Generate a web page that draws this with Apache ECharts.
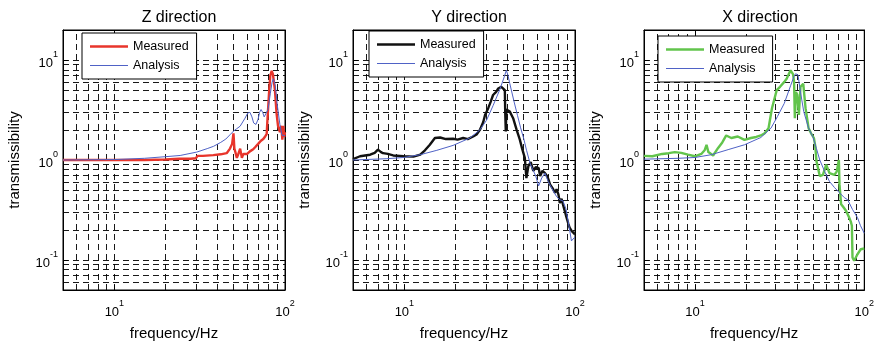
<!DOCTYPE html>
<html>
<head>
<meta charset="utf-8">
<script src="https://cdn.jsdelivr.net/npm/echarts@6/dist/echarts.min.js"></script>
<style>html,body{margin:0;padding:0;background:#fff}#c{width:877px;height:346px}</style>
</head>
<body>
<div id="c"></div>
<script>
// ---- data ----
const titles = ['Z direction', 'Y direction', 'X direction'];
const legendNames = ['Measured', 'Analysis'];
const xTicks = [10, 100];
const yTicks = [0.1, 1, 10];

const zMeasF = [5, 7, 10, 15, 20, 24, 28, 30, 30.8, 33, 38, 42, 45.5, 47.6, 49, 49.9, 50.5, 51, 52.2, 53, 54.6, 55.9, 57, 58.3, 60, 62.3, 65.1, 67, 69.6, 72, 74.6, 76.5, 78.1, 79, 80.5, 82, 83.6, 85, 86, 87.3, 89.3, 91, 93.4, 95, 96.5, 97.7, 99, 100];
const zMeasV = [1.0, 1.0, 1.0, 1.0, 1.01, 1.03, 1.03, 1.04, 1.1, 1.1, 1.12, 1.14, 1.17, 1.3, 1.45, 1.85, 1.3, 1.23, 1.05, 1.12, 1.3, 1.05, 1.15, 1.2, 1.15, 1.22, 1.28, 1.35, 1.45, 1.55, 1.62, 1.72, 1.82, 2.6, 4.5, 7.0, 7.8, 7.2, 7.5, 5.0, 2.9, 2.2, 1.9, 2.2, 1.6, 2.2, 1.7, 1.9];
const zAnaF = [5, 10, 15, 20, 24.3, 30.4, 35, 38.1, 42, 45, 47.6, 50, 52, 54.6, 56.5, 58.3, 60.5, 62.3, 64, 65.5, 67.6, 69.5, 71, 72.4, 74, 75.5, 77.3, 79.5, 82, 84, 85.5, 86.6, 87.8, 90.1, 93.4, 96, 98, 100];
const zAnaV = [1.0, 1.01, 1.04, 1.08, 1.11, 1.2, 1.3, 1.37, 1.5, 1.62, 1.79, 1.95, 2.05, 2.18, 2.4, 2.62, 2.95, 3.0, 2.7, 2.35, 2.27, 2.55, 3.0, 3.2, 3.0, 2.7, 2.62, 3.2, 4.6, 6.0, 6.5, 6.4, 5.5, 3.55, 2.25, 1.77, 1.7, 1.75];

const yMeasF = [5, 5.5, 6.3, 6.7, 7.0, 7.3, 7.5, 8.0, 8.6, 9.9, 11.3, 12.4, 13.2, 14.1, 15.1, 16.2, 17.5, 19.3, 20.5, 22.1, 23.5, 25.3, 26.5, 27.7, 29, 29.7, 31.0, 32, 33.1, 34.5, 35.5, 37, 38.0, 38.8, 39.0, 39.3, 39.6, 40.0, 41.5, 43.4, 45.5, 47.5, 49, 50.8, 51.9, 53.3, 55, 57.0, 59, 61.2, 62.5, 64.5, 66.7, 69, 71.4, 74, 76.3, 78.0, 80, 81.5, 83.4, 85, 87.1, 89, 91.4, 93, 95.5, 98, 100];
const yMeasV = [1.02, 1.09, 1.13, 1.18, 1.27, 1.2, 1.17, 1.15, 1.11, 1.09, 1.08, 1.13, 1.25, 1.42, 1.66, 1.68, 1.62, 1.63, 1.6, 1.66, 1.62, 1.72, 1.8, 2.0, 2.4, 2.82, 3.3, 3.8, 4.47, 4.8, 5.2, 5.4, 5.6, 5.0, 3.0, 1.93, 3.2, 3.3, 3.05, 2.62, 2.0, 1.6, 1.3, 1.05, 0.66, 0.87, 0.95, 0.78, 0.85, 0.83, 0.69, 0.78, 0.74, 0.68, 0.57, 0.52, 0.47, 0.51, 0.45, 0.37, 0.41, 0.36, 0.31, 0.27, 0.23, 0.21, 0.195, 0.19, 0.18];
const yAnaF = [5, 7.9, 9.9, 12.4, 15.5, 19.3, 24.2, 27.7, 30.3, 33.1, 36.3, 38.5, 39.6, 40.5, 41.5, 44, 46, 48, 50, 52, 54.6, 58.9, 61.2, 63.8, 66.7, 69.6, 74.6, 78, 81.5, 85, 88.7, 92.6, 95.3, 97.5, 100];
const yAnaV = [1.0, 1.03, 1.06, 1.13, 1.25, 1.4, 1.66, 2.0, 2.5, 3.5, 5.1, 6.8, 7.9, 7.0, 5.8, 3.8, 2.8, 2.1, 1.65, 1.25, 0.92, 0.69, 0.55, 0.66, 0.74, 0.61, 0.49, 0.43, 0.40, 0.39, 0.32, 0.21, 0.155, 0.15, 0.17];

const xMeasF = [5, 5.6, 6.4, 7.0, 7.6, 8.3, 9.1, 10, 10.9, 11.4, 11.7, 12.0, 12.8, 13.7, 14.5, 15.3, 16.4, 17.9, 19.6, 21.4, 23, 24.5, 25.8, 27.2, 28.5, 30.4, 31.8, 33.7, 34.8, 36.7, 38.0, 38.5, 38.9, 39.5, 40.2, 41.1, 42.0, 43.6, 45.0, 46.9, 48.5, 50.4, 51.3, 52.2, 54.6, 57.0, 59.6, 62.3, 66.7, 68.8, 70.5, 70.8, 71.4, 73.0, 75, 78.0, 81.5, 83.4, 84.5, 85.2, 87.1, 89.3, 91.2, 95.4, 100];
const xMeasV = [1.1, 1.09, 1.15, 1.17, 1.2, 1.18, 1.13, 1.09, 1.15, 1.25, 1.42, 1.2, 1.11, 1.32, 1.5, 1.76, 1.66, 1.72, 1.59, 1.66, 1.7, 1.76, 1.85, 2.08, 3.3, 5.0, 5.4, 6.05, 6.5, 7.9, 7.2, 6.0, 2.62, 4.8, 4.5, 2.82, 5.4, 5.8, 3.3, 2.08, 1.85, 1.66, 1.4, 0.97, 0.69, 0.71, 0.9, 0.74, 0.71, 0.77, 0.75, 1.0, 0.57, 0.36, 0.34, 0.31, 0.265, 0.24, 0.22, 0.106, 0.098, 0.1, 0.114, 0.128, 0.13];
const xAnaF = [5, 8, 10, 12.5, 15.7, 19.6, 24.5, 28.1, 30.7, 33.7, 36.8, 38.5, 39.3, 40.6, 42.0, 43.9, 46.9, 49.9, 52.2, 54.6, 58.3, 62.3, 66.7, 71.4, 76.3, 79.8, 85.2, 91.2, 95, 100];
const xAnaV = [1.02, 1.04, 1.06, 1.13, 1.27, 1.42, 1.68, 2.08, 2.72, 3.69, 5.6, 6.9, 7.3, 7.1, 4.8, 3.05, 2.08, 1.68, 1.3, 1.0, 0.77, 0.61, 0.53, 0.47, 0.42, 0.40, 0.32, 0.265, 0.22, 0.185];

const measColors = ['#e8352b', '#111111', '#62c44c'];
const anaColor = '#4f62c6';

// ---- build ----
const pair = (f, v) => f.map((x, i) => [x, v[i]]);
const measured = [pair(zMeasF, zMeasV), pair(yMeasF, yMeasV), pair(xMeasF, xMeasV)];
const analysis = [pair(zAnaF, zAnaV), pair(yAnaF, yAnaV), pair(xAnaF, xAnaV)];

const gridLefts = [63, 353, 644];
const gridW = 222, gridTop = 30, gridH = 263;
const legendPos = [[82, 33], [369, 31], [658, 36]];
const FONT = '"Liberation Sans", Arial, sans-serif';

const xGridVals = [6, 7, 8, 9, 10, 20, 30, 40, 50, 60, 70, 80, 90];
const yGridVals = [0.06, 0.07, 0.08, 0.09, 0.1, 0.2, 0.3, 0.4, 0.5, 0.6, 0.7, 0.8, 0.9, 1, 2, 3, 4, 5, 6, 7, 8, 9, 10];

function powLabel(v) {
  const l = Math.log10(v);
  const e = Math.round(l);
  if (Math.abs(l - e) > 1e-6) return '';
  return '{b|10}{s|' + e + '}';
}
const rich = {
  b: { fontSize: 13, fontFamily: FONT, color: '#000', lineHeight: 20, verticalAlign: 'bottom' },
  s: { fontSize: 9, fontFamily: FONT, color: '#000', lineHeight: 20, verticalAlign: 'top' }
};

const grid = [], xAxis = [], yAxis = [], series = [], legend = [], title = [];
for (let i = 0; i < 3; i++) {
  grid.push({ left: gridLefts[i], top: gridTop, width: gridW, height: gridH, show: true, borderColor: '#000', borderWidth: 1, backgroundColor: '#fff' });
  title.push({ text: titles[i], left: gridLefts[i] + gridW / 2, top: 5, textAlign: 'center',
    textStyle: { fontSize: 16, fontWeight: 'normal', color: '#000', fontFamily: FONT } });
  const axLine = { show: true, lineStyle: { color: '#000', width: 1 } };
  const tick = { inside: true, length: 5, lineStyle: { color: '#000' } };
  xAxis.push({
    type: 'log', logBase: 10, gridIndex: i, min: 5, max: 100, position: 'bottom',
    name: 'frequency/Hz', nameLocation: 'middle', nameGap: 36,
    nameTextStyle: { fontSize: 15, color: '#000', fontFamily: FONT },
    axisLine: axLine, axisTick: tick,
    axisLabel: { formatter: powLabel, rich: rich, margin: 9, showMinLabel: false },
    splitLine: { show: false }
  });
  xAxis.push({
    type: 'log', logBase: 10, gridIndex: i, min: 5, max: 100, position: 'top',
    axisLine: axLine, axisTick: tick,
    axisLabel: { show: false }, splitLine: { show: false }
  });
  yAxis.push({
    type: 'log', logBase: 10, gridIndex: i, min: 0.05, max: 20, position: 'left',
    name: 'transmissibility', nameLocation: 'middle', nameGap: 41,
    nameTextStyle: { fontSize: 15, color: '#000', fontFamily: FONT },
    axisLine: axLine, axisTick: tick,
    axisLabel: { formatter: powLabel, rich: rich, margin: 5, showMinLabel: false, showMaxLabel: false },
    splitLine: { show: false }
  });
  yAxis.push({
    type: 'log', logBase: 10, gridIndex: i, min: 0.05, max: 20, position: 'right',
    axisLine: axLine, axisTick: tick,
    axisLabel: { show: false }, splitLine: { show: false }
  });
  const mName = legendNames[0] + ' ' + i, aName = legendNames[1] + ' ' + i;
  series.push({
    type: 'line', name: 'grid' + i, xAxisIndex: 2 * i, yAxisIndex: 2 * i, data: [], z: 1,
    markLine: {
      silent: true, symbol: 'none', z: 1, animation: false,
      label: { show: false },
      lineStyle: { color: '#000', width: 1, type: [6, 4], opacity: 0.9 },
      data: xGridVals.map(v => ({ xAxis: v })).concat(yGridVals.map(v => ({ yAxis: v })))
    }
  });
  series.push({
    type: 'line', name: mName, xAxisIndex: 2 * i, yAxisIndex: 2 * i, data: measured[i],
    symbol: 'none', z: 3, lineStyle: { color: measColors[i], width: 2.4 }, itemStyle: { color: measColors[i] }
  });
  series.push({
    type: 'line', name: aName, xAxisIndex: 2 * i, yAxisIndex: 2 * i, data: analysis[i],
    symbol: 'none', z: 4, lineStyle: { color: anaColor, width: 1 }, itemStyle: { color: anaColor }
  });
  legend.push({
    data: [
      { name: mName, icon: 'path://M0,0H38V2.4H0Z', itemStyle: { color: measColors[i] } },
      { name: aName, icon: 'path://M0,0H38V1H0Z', itemStyle: { color: anaColor } }
    ],
    left: legendPos[i][0], top: legendPos[i][1], orient: 'vertical',
    formatter: n => n.split(' ')[0],
    backgroundColor: '#fff', borderColor: '#000', borderWidth: 1, borderRadius: 0,
    padding: [7, 8, 7, 8], itemGap: 6, itemWidth: 38, itemHeight: 12, symbolKeepAspect: true,
    textStyle: { fontSize: 12.5, color: '#000', fontFamily: FONT },
    selectedMode: false, inactiveColor: '#000'
  });
}

const chart = echarts.init(document.getElementById('c'), null, { renderer: 'canvas' });
chart.setOption({ animation: false, backgroundColor: '#fff', title, grid, xAxis, yAxis, legend, series });
</script>
</body>
</html>
